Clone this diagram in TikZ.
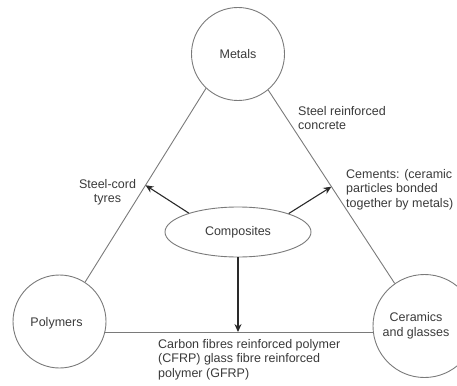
\documentclass[tikz,border=0pt]{standalone}
\usepackage{fontspec}
\setmainfont{Liberation Sans}
\usetikzlibrary{shapes.geometric,arrows.meta,calc}
\definecolor{txt}{HTML}{3A3A3A}
\definecolor{edge}{HTML}{7A7A7A}
\definecolor{arr}{HTML}{2A2A2A}
\begin{document}
\begin{tikzpicture}[x=1pt,y=-1pt,
  font=\fontsize{12.5}{14.5}\selectfont,
  every node/.style={text=txt},
  material/.style={circle,draw=edge,line width=0.9pt,inner sep=0pt},
  composite/.style={ellipse,draw=edge,line width=0.9pt,inner sep=0pt,minimum width=146pt,minimum height=50pt},
  tri/.style={draw=edge,line width=0.9pt},
  pointer/.style={draw=arr,line width=1.1pt,-{Stealth[length=8pt,width=7pt]}},
  note/.style={inner sep=0pt,align=left,anchor=north west}]
\useasboundingbox (0,0) rectangle (457,385);
\clip (0,0) rectangle (457,385);
% materials
\node[material,minimum size=93pt] (metals) at (238,54) {Metals};
\node[material,minimum size=93pt] (poly) at (59.5,321.5) {};
\node[inner sep=0pt] (polytext) at (56.5,323) {Polymers};
\node[material,minimum size=103pt] (cer) at (424.5,326) {};
\node[inner sep=0pt,align=center] (certext) at (416,326) {Ceramics\\and glasses};
% triangle
\draw[tri] (metals.227) -- (poly.57);
\draw[tri] (metals.310) -- (cer.125);
\draw[tri] (poly.-13) -- (poly.-13 -| cer.west);
% composites
\node[composite] (comp) at (238,232) {Composites};
\coordinate (tl) at ($(metals.227)!0.5!(poly.57)$);
\coordinate (tr) at ($(metals.310)!0.5!(cer.125)$);
\draw[pointer] (comp.159) -- (tl);
\draw[pointer] (comp.20) -- (tr);
\draw[pointer] (comp.south) -- (comp.south |- poly.-13);
% notes
\node[note] (src) at (298,106) {Steel reinforced\\concrete};
\node[note] (cem) at (346,169) {Cements: (ceramic\\particles bonded\\together by metals)};
\node[note] (cfrp) at (158,339) {Carbon fibres reinforced polymer\\(CFRP) glass fibre reinforced\\polymer (GFRP)};
\node[inner sep=0pt,align=center,anchor=north] (tyres) at (107.5,179) {Steel-cord\\tyres};
\end{tikzpicture}
\end{document}
